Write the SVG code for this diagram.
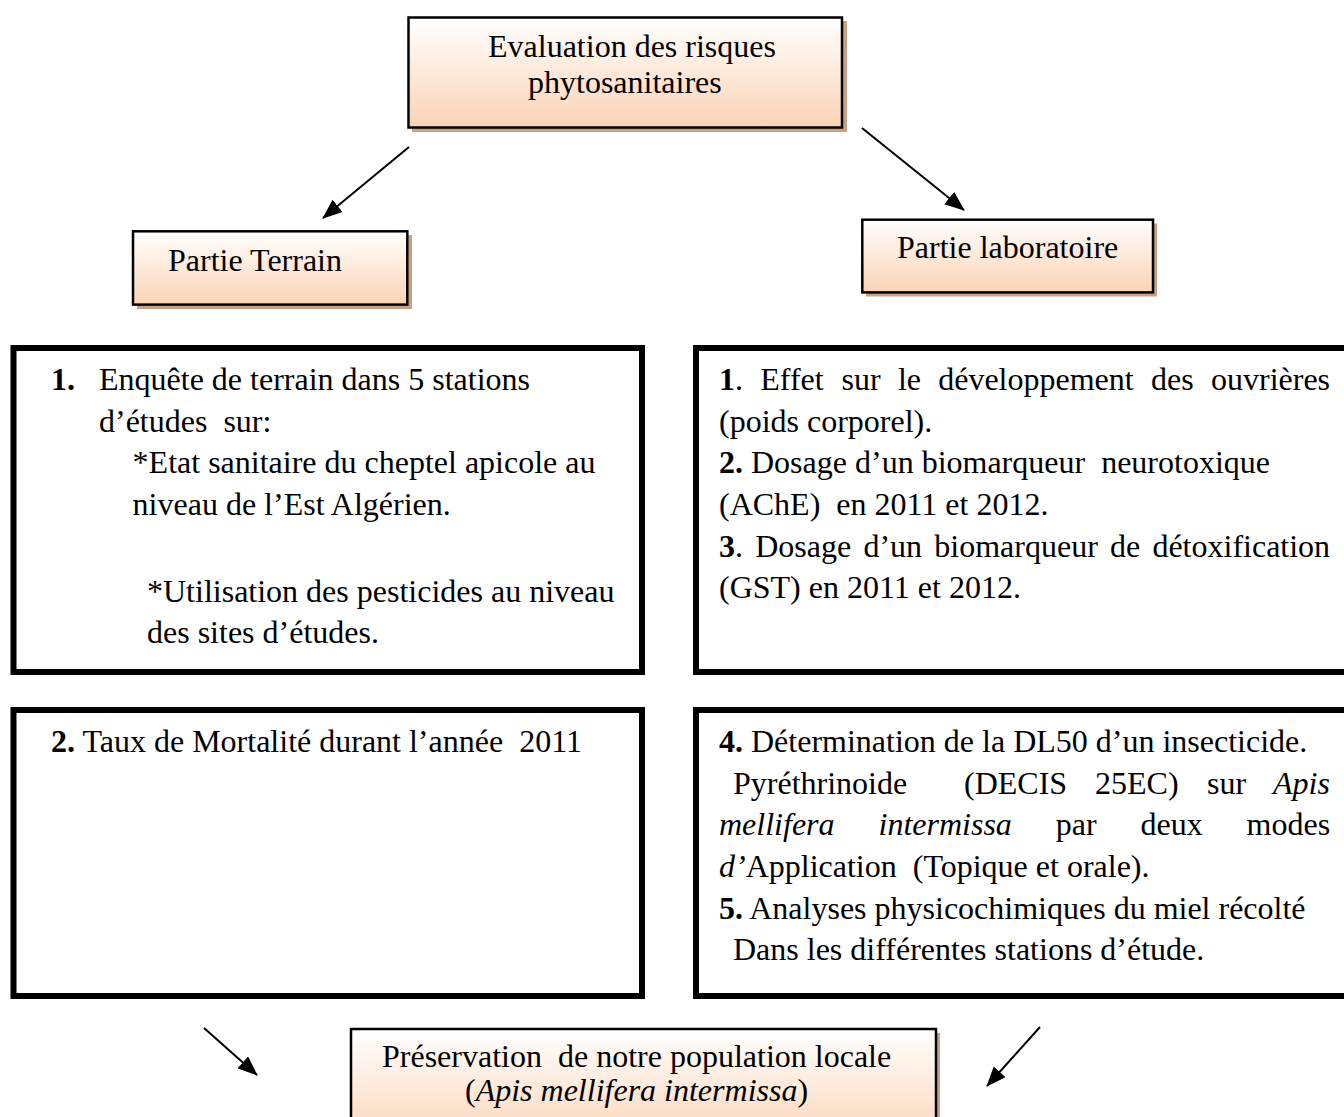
<svg xmlns="http://www.w3.org/2000/svg" width="1344" height="1117" viewBox="0 0 1344 1117">
<style>
.t { font-family: "Liberation Serif", "Times New Roman", serif; font-size: 32px; fill: #000; }
.b { font-weight: bold; }
.i { font-style: italic; }
.hdr { fill: url(#peach); stroke: #000; stroke-width: 2.5; }
.shadow { fill: #c9a184; }
.panel { fill: #fff; stroke: #000; stroke-width: 6; }
.conn { stroke: #000; stroke-width: 2; fill: none; marker-end: url(#ah); }
</style>
<defs>
<linearGradient id="peach" x1="0" y1="0" x2="0" y2="1">
<stop offset="0" stop-color="#ffffff"/>
<stop offset="1" stop-color="#fbd3b5"/>
</linearGradient>
<marker id="ah" viewBox="0 0 20 16" refX="19" refY="8" markerWidth="20" markerHeight="16" markerUnits="userSpaceOnUse" orient="auto">
<path d="M0,0 L20,8 L0,16 z" fill="#000"/>
</marker>
</defs>
<rect width="1344" height="1117" fill="#fff"/>

<g id="connectors">
<line class="conn" x1="409" y1="147" x2="323" y2="218"/>
<line class="conn" x1="862" y1="128" x2="964" y2="210"/>
<line class="conn" x1="204" y1="1028" x2="257" y2="1075"/>
<line class="conn" x1="1040" y1="1027" x2="987" y2="1086"/>
</g>

<g id="node-evaluation">
<rect class="shadow" x="412" y="21" width="435" height="111"/>
<rect class="hdr" x="408.5" y="17.5" width="433.5" height="110"/>
<text class="t" x="488" y="57">Evaluation des risques</text>
<text class="t" x="528" y="93">phytosanitaires</text>
</g>

<g id="node-terrain">
<rect class="shadow" x="137" y="235" width="275" height="74"/>
<rect class="hdr" x="133" y="231.3" width="274.3" height="73.3"/>
<text class="t" x="168" y="271">Partie Terrain</text>
</g>

<g id="node-laboratoire">
<rect class="shadow" x="866" y="223.5" width="291" height="73"/>
<rect class="hdr" x="862.3" y="219.7" width="290.7" height="72.7"/>
<text class="t" x="897" y="258">Partie laboratoire</text>
</g>

<g id="node-terrain-1">
<rect class="panel" x="13.5" y="348" width="628.5" height="324"/>
<text class="t" y="390"><tspan x="51" class="b">1.</tspan><tspan x="99">Enquête de terrain dans 5 stations</tspan></text>
<text class="t" x="99" y="431.7" xml:space="preserve">d’études  sur:</text>
<text class="t" x="132.6" y="473.3">*Etat sanitaire du cheptel apicole au</text>
<text class="t" x="132.6" y="515">niveau de l’Est Algérien.</text>
<text class="t" x="147" y="601.7">*Utilisation des pesticides au niveau</text>
<text class="t" x="147" y="643">des sites d’études.</text>
</g>

<g id="node-labo-1">
<rect class="panel" x="696" y="348" width="670" height="324"/>
<text class="t" y="390"><tspan x="719"><tspan class="b">1</tspan>.</tspan><tspan x="760.3">Effet</tspan><tspan x="841.5">sur</tspan><tspan x="897.9">le</tspan><tspan x="938.2">développement</tspan><tspan x="1151">des</tspan><tspan x="1211">ouvrières</tspan></text>
<text class="t" x="719" y="431.7">(poids corporel).</text>
<text class="t" x="719" y="473.3" xml:space="preserve"><tspan class="b">2.</tspan> Dosage d’un biomarqueur  neurotoxique</text>
<text class="t" x="719" y="515" xml:space="preserve">(AChE)  en 2011 et 2012.</text>
<text class="t" y="556.7"><tspan x="719"><tspan class="b">3</tspan>.</tspan><tspan x="755.2">Dosage</tspan><tspan x="863.4">d’un</tspan><tspan x="934.3">biomarqueur</tspan><tspan x="1110">de</tspan><tspan x="1152.4">détoxification</tspan></text>
<text class="t" x="719" y="598.3">(GST) en 2011 et 2012.</text>
</g>

<g id="node-terrain-2">
<rect class="panel" x="13.5" y="710" width="628.5" height="286"/>
<text class="t" x="51" y="752" xml:space="preserve"><tspan class="b">2.</tspan> Taux de Mortalité durant l’année  2011</text>
</g>

<g id="node-labo-2">
<rect class="panel" x="696" y="710" width="670" height="286"/>
<text class="t" x="719" y="752" xml:space="preserve"><tspan class="b">4.</tspan> Détermination de la DL50 d’un insecticide.</text>
<text class="t" y="793.7"><tspan x="733">Pyréthrinoide</tspan><tspan x="964">(DECIS</tspan><tspan x="1095">25EC)</tspan><tspan x="1207">sur</tspan><tspan x="1273" class="i">Apis</tspan></text>
<text class="t" y="835.3"><tspan x="719" class="i">mellifera</tspan><tspan x="878.5" class="i">intermissa</tspan><tspan x="1055.7">par</tspan><tspan x="1140.5">deux</tspan><tspan x="1246.6">modes</tspan></text>
<text class="t" x="719" y="877" xml:space="preserve"><tspan class="i">d’</tspan>Application  (Topique et orale).</text>
<text class="t" x="719" y="918.7" xml:space="preserve"><tspan class="b">5.</tspan> Analyses physicochimiques du miel récolté</text>
<text class="t" x="733" y="960.3">Dans les différentes stations d’étude.</text>
</g>

<g id="node-preservation">
<rect class="shadow" x="355" y="1033" width="585" height="120"/>
<rect class="hdr" x="351" y="1029" width="585" height="120"/>
<text class="t" x="382" y="1067" xml:space="preserve">Préservation  de notre population locale</text>
<text class="t" x="465" y="1101">(<tspan class="i">Apis mellifera intermissa</tspan>)</text>
</g>
</svg>
